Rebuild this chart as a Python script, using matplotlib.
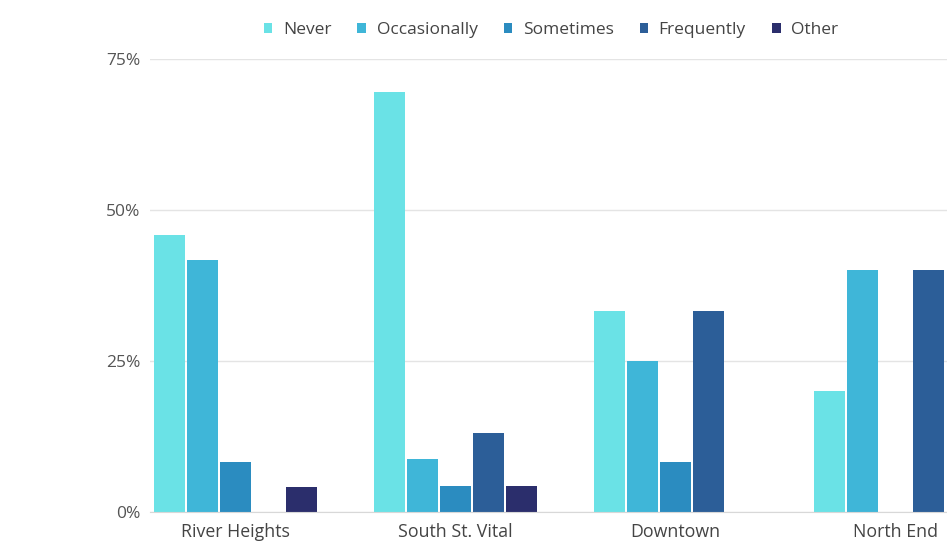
import matplotlib
matplotlib.use('Agg')
import matplotlib.pyplot as plt
import numpy as np

# Share of respondents per neighbourhood (%)
neighbourhoods = ['River Heights', 'South St. Vital', 'Downtown', 'North End']
categories = ['Never', 'Occasionally', 'Sometimes', 'Frequently', 'Other']
never = [45.8, 69.6, 33.3, 20.0]
occasionally = [41.7, 8.7, 25.0, 40.0]
sometimes = [8.3, 4.3, 8.3, 0.0]
frequently = [0.0, 13.0, 33.3, 40.0]
other = [4.2, 4.3, 0.0, 0.0]
y_ticks = [0, 25, 50, 75]
y_labels = ['0%', '25%', '50%', '75%']

colors = ['#6ae2e6', '#3fb6d8', '#2b8cc0', '#2c5e98', '#2b2e6c']
plt.rcParams['font.family'] = ['Open Sans', 'DejaVu Sans']

fig = plt.figure(figsize=(9.47, 5.45), dpi=100)
ax = fig.add_axes([150 / 947, 33 / 545, 1 - 150 / 947, (512 - 59) / 545])

series = [never, occasionally, sometimes, frequently, other]
x = np.arange(len(neighbourhoods))
width = 0.15
for i, (name, vals) in enumerate(zip(categories, series)):
    offs = (i - 2) * width
    ax.bar(x + offs, vals, width=width * 0.95, color=colors[i], label=name, zorder=3)

ax.set_xlim(-0.389, 3.234)
ax.set_ylim(0, 75)
ax.set_yticks(y_ticks)
ax.set_yticklabels(y_labels, fontsize=12.5, color='#555555')
ax.set_xticks(x)
ax.set_xticklabels(neighbourhoods, fontsize=12.8, color='#444444')
ax.tick_params(axis='both', length=0)
ax.tick_params(axis='y', pad=7)
ax.tick_params(axis='x', pad=8)

ax.grid(axis='y', color='#e4e4e4', linewidth=1, zorder=0)
for side in ['top', 'right', 'left']:
    ax.spines[side].set_visible(False)
ax.spines['bottom'].set_color('#d8d8d8')
ax.spines['bottom'].set_zorder(4)

fig.legend(loc='center', bbox_to_anchor=(551 / 947, 1 - 30 / 545), ncol=5,
           frameon=False, fontsize=12.5, handlelength=0.5, handleheight=0.5,
           handletextpad=0.6, columnspacing=1.5, labelcolor='#444444')

fig.savefig('out.png', dpi=100)
